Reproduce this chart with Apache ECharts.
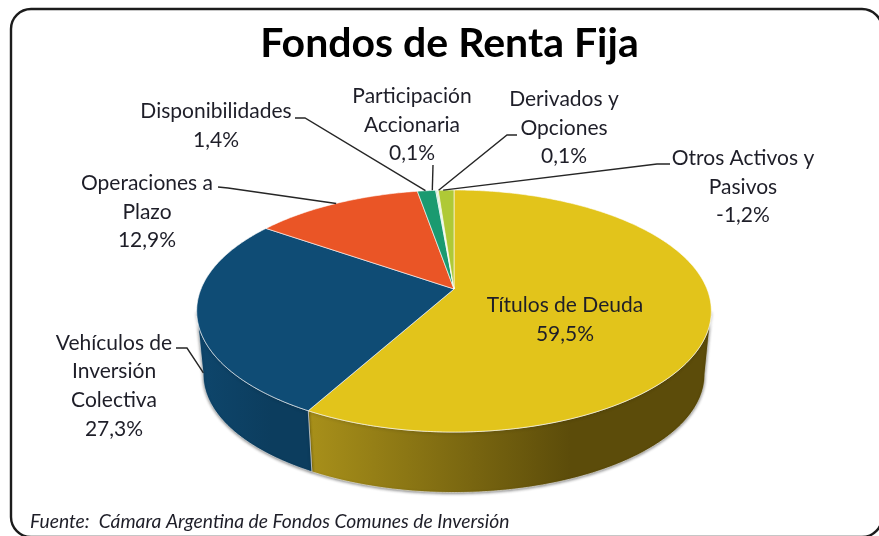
<!DOCTYPE html>
<html>
<head>
<meta charset="utf-8">
<style>html,body{margin:0;padding:0;background:#fff}#c{width:879px;height:536px}</style>
<script src="https://cdn.jsdelivr.net/npm/echarts@6/dist/echarts.min.js"></script>
</head>
<body>
<div id="c"></div>
<script>
// ---- data ----
var titleText = 'Fondos de Renta Fija';
var sourceText = 'Fuente:  Cámara Argentina de Fondos Comunes de Inversión';
var categories = ['Títulos de Deuda', 'Vehículos de\nInversión\nColectiva', 'Operaciones a\nPlazo',
  'Disponibilidades', 'Participación\nAccionaria', 'Derivados y\nOpciones', 'Otros Activos y\nPasivos'];
var shares = [59.5, 27.3, 12.9, 1.4, 0.1, 0.1, -1.2];

// ---- style and layout (separate from the data) ----
var topColors = ['#E2C41B', '#0F4C75', '#EA5526', '#1A9A70', '#A6D8C4', '#D3E6B0', '#AFC936'];
var wallStart = ['#A8901A', '#0E466C', '#B8421C', '#14785A', '#80A898', '#A0B088', '#88A028'];
var wallEnd = ['#5C4C0A', '#0C3D5E', '#8A3214', '#0E5A42', '#607E70', '#788466', '#66781E'];
var labelCenters = [[565, 320], [114, 386], [147, 212], [216, 126], [412, 125], [564, 128], [743, 187]];
var hasLeader = [false, true, true, true, true, true, true];
var leaderElbows = [null, [[176, 348], [187, 348]], [[218, 187], [228, 188]], [[295, 118], [305, 118]],
  [[433, 165], [433, 165]], [[517, 135], [507, 135]], [[670, 164], [657, 164]]];
var leaderNudge = [[0, 0], [0, -7], [0, 0], [-1, 0], [-4, 0], [1, 0], [-3, 0]];

var CX = 454, CY = 289, A = 253, B = 117, K = 0.182;   // projection of the tilted disc
var RIM_CY = 311, WALL_CY = 374.5, WALL_S = 0.975;     // rim centre, wall bottom centre, perspective shrink
var magnitudes = shares.map(Math.abs);
var total = magnitudes.reduce(function (a, b) { return a + b; }, 0);
var FRONT0 = Math.acos(-K), FRONT1 = 2 * Math.PI - FRONT0;

function project(t, r) {                   // t: clockwise from the top of the disc, r: 0..1
  var u = Math.sin(t) * r, v = -Math.cos(t) * r, d = 1 - K * v;
  return [CX + A * u / d, CY + B * v / d];
}
function dropped(p) {
  return [CX + (p[0] - CX) * WALL_S, WALL_CY + (p[1] - RIM_CY) * WALL_S];
}
function arc(a0, a1) {
  var n = Math.max(2, Math.ceil((a1 - a0) / 0.01)), pts = [];
  for (var i = 0; i <= n; i++) pts.push(project(a0 + (a1 - a0) * i / n, 1));
  return pts;
}

function renderSlice(params, api) {
  var i = params.dataIndex, children = [];
  var before = 0;
  for (var j = 0; j < i; j++) before += magnitudes[j];
  var a0 = before / total * 2 * Math.PI;
  var a1 = (before + Math.abs(api.value(0))) / total * 2 * Math.PI;
  var mid = (a0 + a1) / 2;

  // side wall (visible front part only)
  var w0 = Math.max(a0, FRONT0), w1 = Math.min(a1, FRONT1);
  if (w1 > w0) {
    var upper = arc(w0, w1), lower = upper.map(dropped).reverse();
    var xs = upper.concat(lower).map(function (p) { return p[0]; });
    var minX = Math.min.apply(null, xs), maxX = Math.max.apply(null, xs);
    children.push({
      type: 'polygon', z2: 1, shape: { points: upper.concat(lower) },
      style: {
        fill: {
          type: 'linear', global: true, x: minX, y: 0, x2: minX + (maxX - minX) * 0.65, y2: 0,
          colorStops: [{ offset: 0, color: wallStart[i] }, { offset: 1, color: wallEnd[i] }]
        },
        stroke: '#EDEDED', lineWidth: 0.6,
        shadowBlur: 3, shadowColor: 'rgba(0,0,0,0.45)', shadowOffsetX: 0, shadowOffsetY: 1
      }
    });
  }
  // top face
  children.push({
    type: 'polygon', z2: 2, shape: { points: [[CX, CY]].concat(arc(a0, a1)) },
    style: { fill: topColors[i], stroke: 'rgba(255,255,255,0.75)', lineWidth: 0.8, lineJoin: 'round' }
  });
  // leader
  if (hasLeader[i]) {
    var end = project(mid, 1);
    if (-Math.cos(mid) > K) end = dropped(end);
    end = [end[0] + leaderNudge[i][0], end[1] + leaderNudge[i][1]];
    children.push({
      type: 'polyline', z2: 3, shape: { points: leaderElbows[i].concat([end]) },
      style: { fill: null, stroke: '#262626', lineWidth: 1.4 }
    });
  }
  // label
  children.push({
    type: 'text', z2: 4, x: labelCenters[i][0], y: labelCenters[i][1],
    style: {
      text: categories[i] + '\n' + String(api.value(0).toFixed(1)).replace('.', ',') + '%',
      x: 0, y: 0, align: 'center', verticalAlign: 'middle',
      font: '400 21px Lato, sans-serif', lineHeight: 28.7, fill: '#1E1E28'
    }
  });
  return { type: 'group', children: children };
}

var chart = echarts.init(document.getElementById('c'), null, { renderer: 'canvas' });
chart.setOption({
  animation: false,
  backgroundColor: '#fff',
  title: [
    { text: titleText, left: 444.5, top: 18, textAlign: 'center',
      textStyle: { fontFamily: 'Lato', fontWeight: 700, fontSize: 41, color: '#000' } },
    { text: sourceText, left: 25, top: 507,
      textStyle: { fontFamily: 'Lato', fontStyle: 'italic', fontWeight: 400, fontSize: 19.3, color: '#1E1E28' } }
  ],
  graphic: [{
    type: 'rect', z: -1, silent: true,
    shape: { x: 11, y: 9, width: 871, height: 528, r: 20 },
    style: { fill: '#fff', stroke: '#1c1c1c', lineWidth: 2.4 }
  }],
  series: [{
    type: 'custom',
    coordinateSystem: 'none',
    renderItem: renderSlice,
    silent: true,
    data: shares.map(function (v, i) { return { name: categories[i], value: [v] }; })
  }]
});
</script>
</body>
</html>
